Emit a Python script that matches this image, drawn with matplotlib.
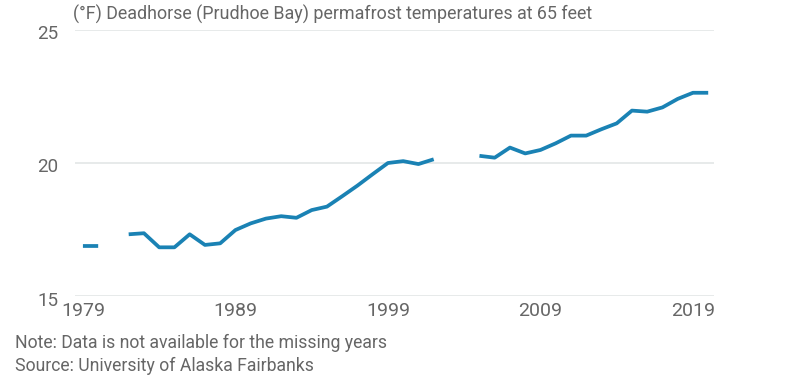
import numpy as np
import matplotlib
matplotlib.use("Agg")
import matplotlib.pyplot as plt
import matplotlib.transforms as mtransforms

# permafrost temperature (degF) at 65 ft, Deadhorse; NaN = missing year
years = list(range(1979, 2021))
temps = [16.88, 16.88, np.nan, 17.32, 17.36, 16.83, 16.83, 17.32, 16.92, 16.98,
         17.48, 17.73, 17.91, 18.00, 17.94, 18.23, 18.36, 18.75, 19.15, 19.58,
         20.00, 20.07, 19.96, 20.14, np.nan, np.nan, 20.27, 20.20, 20.58, 20.36,
         20.49, 20.74, 21.03, 21.03, 21.27, 21.49, 21.97, 21.93, 22.09, 22.41,
         22.64, 22.64]
xticks = [1979, 1989, 1999, 2009, 2019]
yticks = [15, 20, 25]

plt.rcParams['font.family'] = ['Roboto', 'DejaVu Sans']
txt = '#666666'

fig = plt.figure(figsize=(7.98, 3.92), dpi=100)
ax = fig.add_axes([75/798, 1 - 296/392, (714 - 75)/798, (296 - 30)/392])

ax.plot(years, temps, color='#1a82b4', lw=2.7, solid_capstyle='butt',
        solid_joinstyle='round', zorder=3)

ax.set_xlim(1978.48, 2020.38)
ax.set_ylim(15, 25)
ax.set_yticks(yticks)
ax.set_xticks(xticks)
ax.grid(axis='y', color='#e3e6e6', lw=1.2)
for s in ax.spines.values():
    s.set_visible(False)
ax.tick_params(length=0, colors=txt)
ax.tick_params(axis='y', pad=12, labelsize=13.5)
ax.tick_params(axis='x', pad=4, labelsize=14)
# nudge y labels a little below their gridlines
shift = mtransforms.ScaledTranslation(0, -2.5/100, fig.dpi_scale_trans)
for lab in ax.get_yticklabels():
    lab.set_transform(lab.get_transform() + shift)

fig.text(73/798, 1 - 14/392, '(°F) Deadhorse (Prudhoe Bay) permafrost temperatures at 65 feet',
         fontsize=12.9, color=txt, va='center', ha='left')
fig.text(15/798, 1 - 343/392, 'Note: Data is not available for the missing years',
         fontsize=12.7, color=txt, va='center', ha='left')
fig.text(15/798, 1 - 366/392, 'Source: University of Alaska Fairbanks',
         fontsize=12.7, color=txt, va='center', ha='left')

fig.savefig('out.png', dpi=100)
